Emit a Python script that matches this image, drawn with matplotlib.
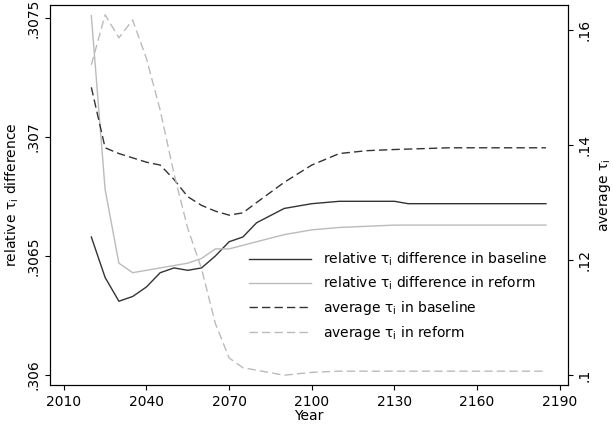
import matplotlib
matplotlib.use("Agg")
import matplotlib.pyplot as plt

yrs_rb = [2020, 2025, 2030, 2035, 2040, 2045, 2050, 2055, 2060, 2065, 2070, 2075, 2080,
          2085, 2090, 2095, 2100, 2110, 2130, 2135, 2185]
rel_base = [.30658, .30641, .30631, .30633, .30637, .30643, .30645, .30644, .30645, .30650,
            .30656, .30658, .30664, .30667, .30670, .30671, .30672, .30673, .30673, .30672, .30672]

yrs_rr = [2020, 2025, 2030, 2035, 2040, 2045, 2050, 2055, 2060, 2065, 2070, 2080, 2090,
          2100, 2110, 2130, 2185]
rel_reform = [.30751, .30678, .30647, .30643, .30644, .30645, .30646, .30647, .30649, .30653,
              .30653, .30656, .30659, .30661, .30662, .30663, .30663]

yrs_ab = [2020, 2025, 2030, 2040, 2045, 2050, 2055, 2060, 2065, 2070, 2075, 2080, 2090,
          2100, 2110, 2120, 2130, 2150, 2185]
avg_base = [.150, .1395, .1385, .1370, .1365, .1340, .1310, .1295, .1285, .1278, .1282, .1300,
            .1335, .1365, .1385, .1390, .1392, .1395, .1395]

yrs_ar = [2020, 2025, 2030, 2035, 2040, 2045, 2050, 2055, 2060, 2065, 2070, 2075, 2090,
          2100, 2110, 2185]
avg_reform = [.1539, .1626, .1586, .1617, .155, .146, .135, .1255, .1185, .109, .103, .1013,
              .1, .1005, .1007, .1007]

dark = "#333333"
light = "#bbbbbb"

fig = plt.figure(figsize=(6.13, 4.30), dpi=100)
ax = fig.add_axes([50/613, 45/430, 518/613, 380/430])
ax2 = ax.twinx()

l1, = ax.plot(yrs_rb, rel_base, color=dark, lw=1)
l2, = ax.plot(yrs_rr, rel_reform, color=light, lw=1)
l3, = ax2.plot(yrs_ab, avg_base, color=dark, lw=1, ls=(0, (6, 3)))
l4, = ax2.plot(yrs_ar, avg_reform, color=light, lw=1, ls=(0, (6, 3)))

ax.set_xlim(2005, 2193)
ax.set_ylim(.305958, .307555)
ax2.set_ylim(.0983, .1643)
ax.set_xticks(range(2010, 2191, 30))
ax.set_yticks([.306, .3065, .307, .3075])
ax.set_yticklabels([".306", ".3065", ".307", ".3075"], rotation=90, va="center")
ax2.set_yticks([.1, .12, .14, .16])
ax2.set_yticklabels([".1", ".12", ".14", ".16"], rotation=90, va="center")
ax.set_xlabel("Year", labelpad=0)
ax.set_ylabel("relative \u03c4$_{\\rm i}$ difference")
ax2.set_ylabel("average \u03c4$_{\\rm i}$")

ax.legend([l1, l2, l3, l4],
          ["relative \u03c4$_{\\rm i}$ difference in baseline",
           "relative \u03c4$_{\\rm i}$ difference in reform",
           "average \u03c4$_{\\rm i}$ in baseline",
           "average \u03c4$_{\\rm i}$ in reform"],
          frameon=False, loc="lower left", bbox_to_anchor=(0.36, 0.08),
          handlelength=4.5, fontsize=10)

fig.savefig("out.png", dpi=100)
